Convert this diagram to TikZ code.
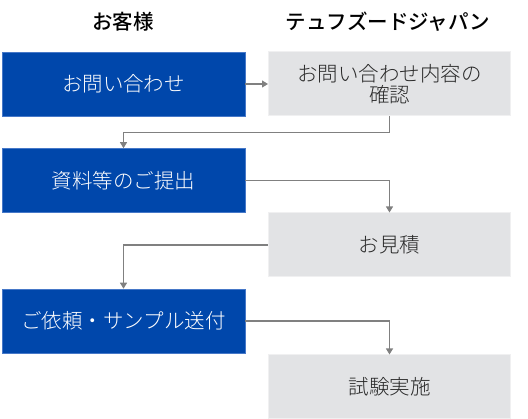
\documentclass[tikz,border=0pt]{standalone}
\usepackage{fontspec}
\setmainfont{Noto Sans CJK JP Light}
\newfontfamily\jpmed{Noto Sans CJK JP Medium}
\usetikzlibrary{arrows.meta}
\definecolor{cblue}{RGB}{0,71,171}
\definecolor{cblueedge}{RGB}{70,120,200}
\definecolor{cgray}{RGB}{226,227,229}
\definecolor{cgrayedge}{RGB}{240,240,241}
\definecolor{cline}{RGB}{128,128,128}
\definecolor{ctext}{RGB}{40,40,40}
\tikzset{
  bluebox/.style={rectangle, fill=cblue, draw=cblueedge, line width=0.6pt, minimum width=243pt, minimum height=64pt, text=white, font=\fontsize{20.5}{21}\selectfont, inner sep=0pt},
  graybox/.style={rectangle, fill=cgray, draw=cgrayedge, line width=1pt, minimum width=242pt, minimum height=64pt, text=ctext, font=\fontsize{20.5}{21}\selectfont, align=center, inner sep=0pt},
  header/.style={font=\fontsize{20.5}{22}\jpmed, text=black, inner sep=0pt},
  conn/.style={draw=cline, line width=1.1pt, -{Triangle[width=7pt,length=6pt]}}
}
\begin{document}
\begin{tikzpicture}[x=1pt,y=-1pt]
\useasboundingbox (0,0) rectangle (528,419);
\node[header] (h1) at (123,22) {お客様};
\node[header] (h2) at (388,22) {テュフズードジャパン};
\node[bluebox] (b1) at (123.5,84) {お問い合わせ};
\node[graybox] (g1) at (389.5,84) {お問い合わせ内容の\\確認};
\node[bluebox] (b2) at (123.5,180.5) {資料等のご提出};
\node[graybox] (g2) at (389.5,245) {お見積};
\node[bluebox] (b3) at (123.5,321) {ご依頼・サンプル送付};
\node[graybox] (g3) at (389.5,387) {試験実施};
\coordinate (k1) at ([yshift=-16pt]g1.south);
\draw[conn] (b1.east) -- (g1.west);
\draw[conn] (g1.south) -- (k1) -| (b2.north);
\draw[conn] (b2.east) -| (g2.north);
\draw[conn] (g2.west) -| (b3.north);
\draw[conn] (b3.east) -| (g3.north);
\end{tikzpicture}
\end{document}
